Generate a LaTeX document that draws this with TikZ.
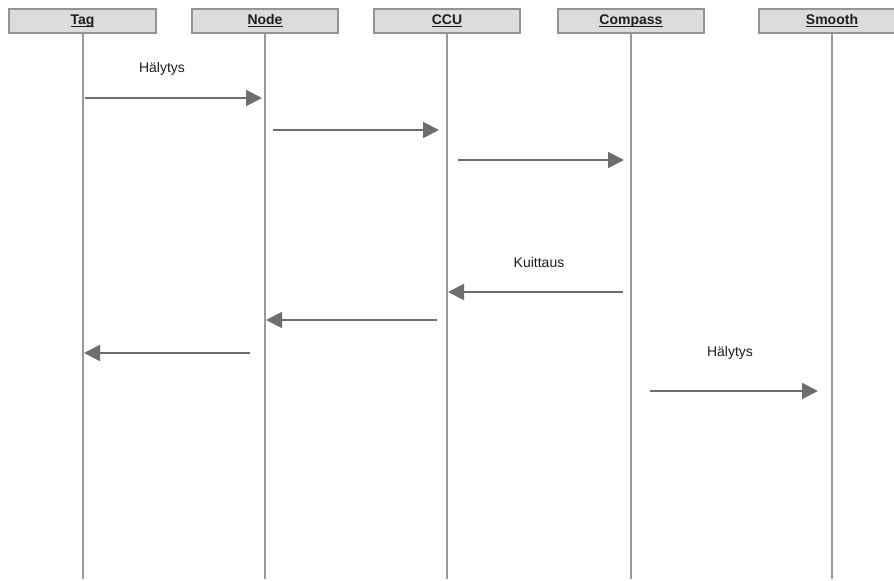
\documentclass[tikz,border=0pt]{standalone}
\usepackage{fontspec}
\setmainfont{Liberation Sans}
\usetikzlibrary{arrows.meta}
\definecolor{boxfill}{HTML}{DCDCDC}
\definecolor{boxdraw}{HTML}{939393}
\definecolor{lifegray}{HTML}{9A9A9A}
\definecolor{msggray}{HTML}{6E6E6E}
\definecolor{txt}{HTML}{1E1E1E}
\newcommand\headul[1]{\setbox0\hbox{#1}\rlap{\rule[-2pt]{\wd0}{0.7pt}}\box0}
\tikzset{
  head/.style={draw=boxdraw, fill=boxfill, line width=1.5pt, minimum width=110pt, minimum height=18pt, inner sep=0pt, text height=7.6pt, text depth=2pt, font=\fontsize{10.5pt}{12pt}\selectfont\bfseries, text=txt},
  life/.style={draw=lifegray, line width=1.5pt},
  msg/.style={draw=msggray, line width=1.5pt, -{Triangle[length=12pt,width=12pt]}, fill=msggray},
  lbl/.style={font=\fontsize{10.5pt}{12pt}\selectfont, text=txt, inner sep=0pt}
}
\begin{document}
\begin{tikzpicture}[x=0.75pt,y=-0.75pt]
\useasboundingbox (0,0) rectangle (894,581);
% headers
\node[head] (tag) at (82.5,21) {\headul{Tag}};
\node[head] (node) at (265,21) {\headul{Node}};
\node[head] (ccu) at (447,21) {\headul{CCU}};
\node[head] (comp) at (631,21) {\headul{Compass}};
\node[head] (smooth) at (832,21) {\headul{Smooth}};
% lifeline ends
\coordinate (tagE) at (82.5,579);
\coordinate (nodeE) at (265,579);
\coordinate (ccuE) at (447,579);
\coordinate (compE) at (631,579);
\coordinate (smoothE) at (832,579);
\draw[life] (tag.south) -- (tagE);
\draw[life] (node.south) -- (nodeE);
\draw[life] (ccu.south) -- (ccuE);
\draw[life] (comp.south) -- (compE);
\draw[life] (smooth.south) -- (smoothE);
% message endpoints
\coordinate (m1s) at (85,98);   \coordinate (m1e) at (262,98);
\coordinate (m2s) at (273,130); \coordinate (m2e) at (439,130);
\coordinate (m3s) at (458,160); \coordinate (m3e) at (624,160);
\coordinate (m4s) at (623,292); \coordinate (m4e) at (448,292);
\coordinate (m5s) at (437,320); \coordinate (m5e) at (266,320);
\coordinate (m6s) at (250,353); \coordinate (m6e) at (84,353);
\coordinate (m7s) at (650,391); \coordinate (m7e) at (818,391);
\draw[msg] (m1s) -- (m1e);
\draw[msg] (m2s) -- (m2e);
\draw[msg] (m3s) -- (m3e);
\draw[msg] (m4s) -- (m4e);
\draw[msg] (m5s) -- (m5e);
\draw[msg] (m6s) -- (m6e);
\draw[msg] (m7s) -- (m7e);
% labels
\node[lbl] (l1) at (162,69) {Hälytys};
\node[lbl] (l4) at (539,262) {Kuittaus};
\node[lbl] (l7) at (730,353) {Hälytys};
\end{tikzpicture}
\end{document}
